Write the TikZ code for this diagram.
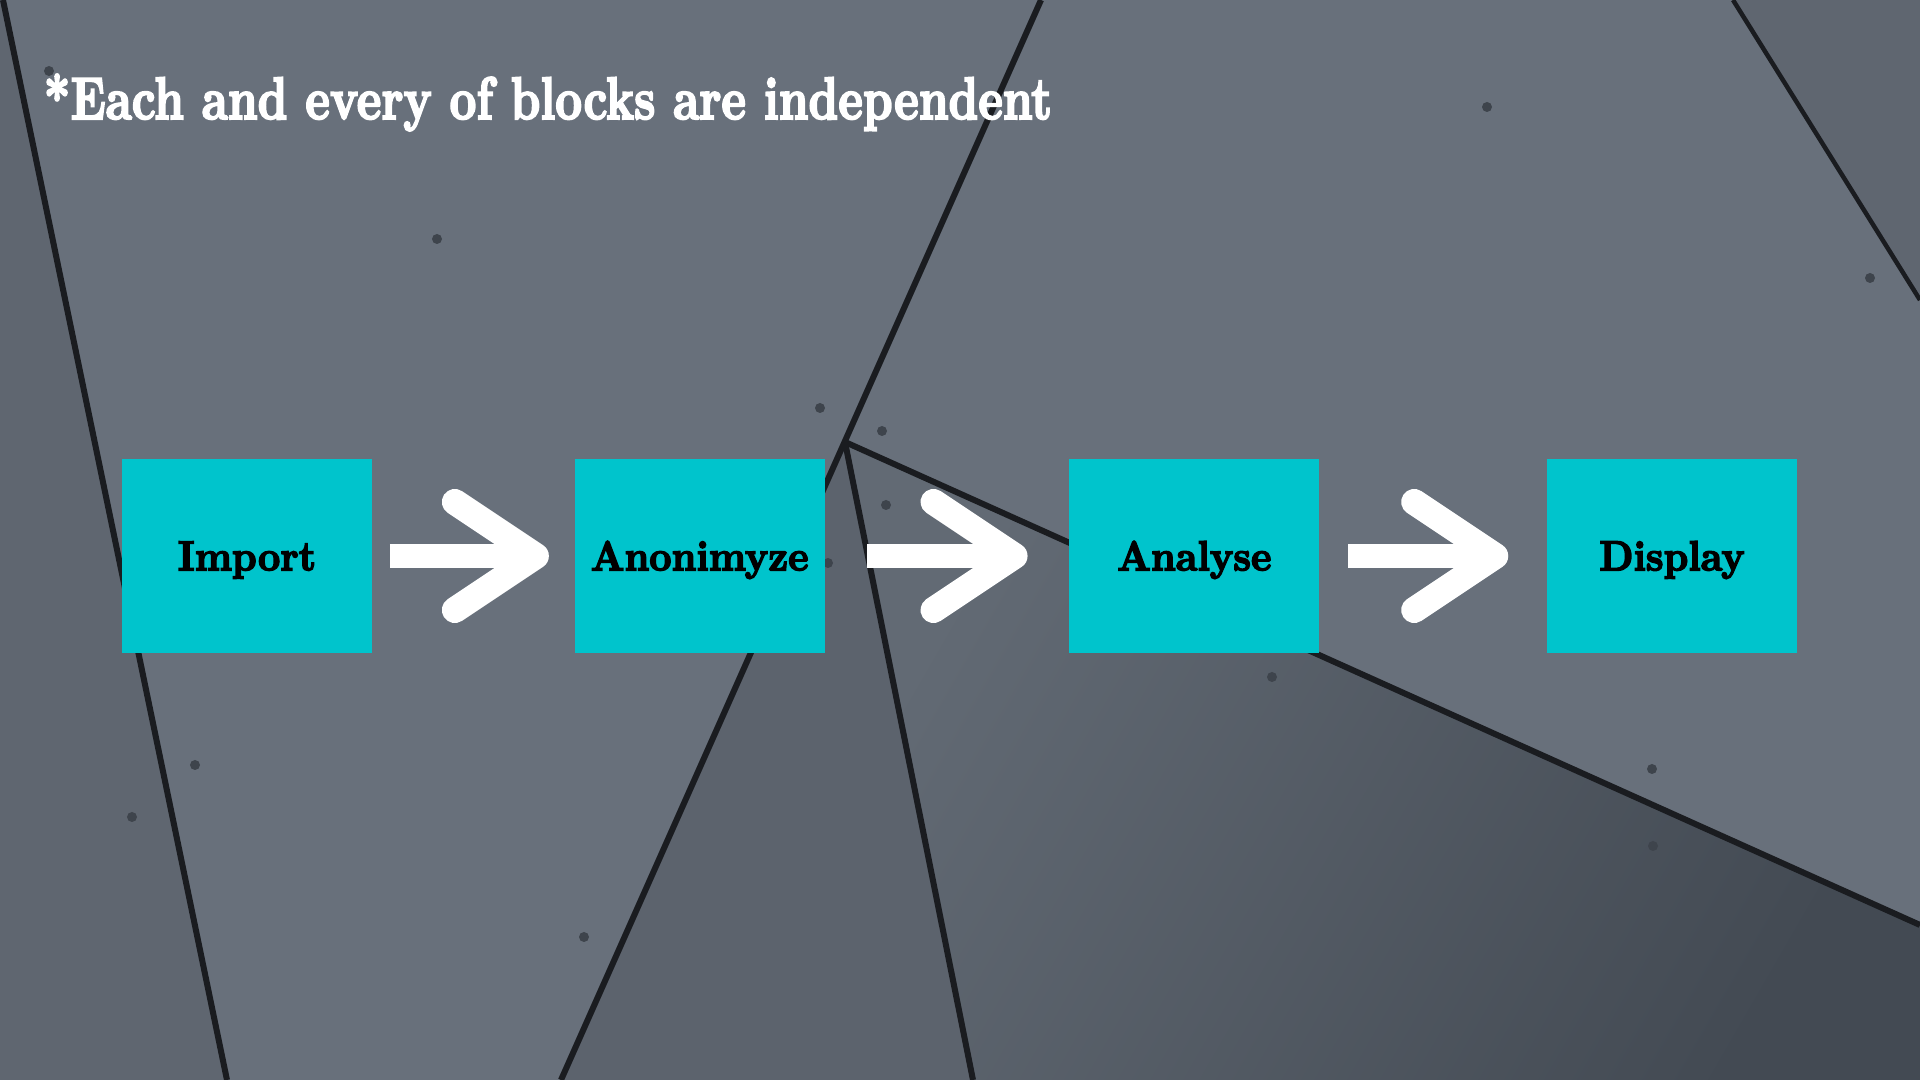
\documentclass[tikz,border=0pt]{standalone}
\usepackage{fontspec}
\usepackage{graphicx}
\usepackage{tikz}
\usetikzlibrary{arrows.meta, positioning}

\newfontfamily\fatfont{lmroman10-bold.otf}[FakeBold=3.5]

\definecolor{panel}{HTML}{68707B}
\definecolor{panelside}{HTML}{5F6670}
\definecolor{paneldark}{HTML}{5C636D}
\definecolor{panellow}{HTML}{626A74}
\definecolor{panelcorner}{HTML}{434A53}
\definecolor{seamdark}{HTML}{1A1C20}
\definecolor{screwdark}{HTML}{3E444C}
\definecolor{boxteal}{HTML}{00C4CC}

\newcommand{\hsquish}[2]{\scalebox{#1}[1]{#2}}

\begin{document}
\begin{tikzpicture}[x=0.01cm, y=-0.01cm,
    block/.style={fill=boxteal, minimum width=2.5cm, minimum height=1.94cm, inner sep=0pt,
                  text height=8.2pt, text depth=0pt, font=\fatfont\fontsize{12}{14}\selectfont},
    flow/.style={draw=white, line width=0.24cm,
                 -{Straight Barb[length=0.81cm, width=1.08cm, line width=0.26cm, round]}},
    seam/.style={draw=seamdark, line width=0.06cm},
    screw/.style={fill=screwdark},
    title/.style={text=white, inner sep=0pt, font=\fatfont\fontsize{17}{20}\selectfont}]

% Background panels
\useasboundingbox (0,0) rectangle (1920,1080);
\clip (0,0) rectangle (1920,1080);
\fill[panel] (0,0) rectangle (1920,1080);
\coordinate (J) at (845,442);
\fill[panelside] (0,0) -- (3,0) -- (227,1080) -- (0,1080) -- cycle;
\fill[panelside] (1733,0) -- (1920,0) -- (1920,300) -- cycle;
\fill[paneldark] (J) -- (561,1080) -- (973,1080) -- cycle;
\shade[left color=panellow, right color=panelcorner, shading angle=60]
    (J) -- (1920,925) -- (1920,1080) -- (973,1080) -- cycle;

% Seams
\draw[seam] (3,0) -- (227,1080);
\draw[seam] (1041,0) -- (561,1080);
\draw[seam] (J) -- (973,1080);
\draw[seam] (J) -- (1920,925);
\draw[seam, line width=0.045cm] (1733,0) -- (1920,300);

% Screws
\foreach \p in {(49,71), (437,239), (1487,107), (1870,278), (820,408), (882,431), (886,505),
                (828,563), (1272,677), (1652,769), (1653,846), (195,765), (132,817), (584,937)}
    \fill[screw] \p circle (0.05cm);

% Heading
\node[title, anchor=base west] (head) at (43,119) {\hsquish{0.78}{*Each and every of blocks are independent}};

% Blocks
\node[block] (import) at (247,556) {\hsquish{0.92}{Import}};
\node[block, right=2.01cm of import] (anon) {\hsquish{0.92}{Anonimyze}};
\node[block, right=2.43cm of anon] (analyse) {\hsquish{0.92}{Analyse}};
\node[block, right=2.26cm of analyse] (display) {\hsquish{0.92}{Display}};

% Arrows
\draw[flow, shorten <=0.17cm, shorten >=0.25cm] (import.east) -- (anon.west);
\draw[flow, shorten <=0.42cm, shorten >=0.41cm] (anon.east) -- (analyse.west);
\draw[flow, shorten <=0.28cm, shorten >=0.38cm] (analyse.east) -- (display.west);

\end{tikzpicture}
\end{document}
